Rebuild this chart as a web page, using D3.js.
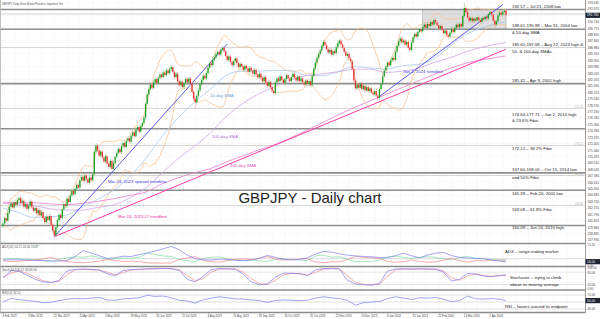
<!DOCTYPE html>
<html>
<head>
<meta charset="utf-8">
<title>GBPJPY - Daily chart</title>
<script src="https://cdn.jsdelivr.net/npm/d3@7"></script>
<style>
  body { margin: 0; background: #fff; }
  svg { display: block; font-family: "Liberation Sans", Arial, sans-serif; }
</style>
</head>
<body>
<div id="wrapper"></div>
<script>
// ---- data ----
// daily closes, 3 Feb 2023 .. late Apr 2024
const closes = [
  160.4, 161.2, 160.8, 162.0, 162.9, 163.4, 162.8, 163.6, 163.2, 163.9,
  164.2, 163.5, 163.8, 162.9, 163.3, 162.6, 163.1, 163.7, 162.8, 162.3,
  162.7, 161.9, 162.4, 161.6, 162.1, 161.2, 160.6, 161.4, 160.9, 161.5,
  160.2, 159.3, 158.6, 159.8, 160.9, 161.7, 161.2, 162.5, 163.3, 163.0,
  164.1, 163.6, 164.6, 165.3, 164.8, 165.6, 166.2, 165.8, 166.9, 167.4,
  166.8, 167.6, 167.1, 166.5, 167.3, 166.9, 167.8, 171.2, 172.1, 171.4,
  170.6, 171.2, 170.3, 169.7, 170.5, 169.4, 168.9, 169.8, 168.6, 169.5,
  170.4, 171.0, 171.6, 171.1, 172.0, 172.5, 171.9, 172.8, 173.2, 172.7,
  173.6, 174.1, 173.5, 174.5, 174.9, 174.2, 175.0, 175.5, 176.3, 178.4,
  179.8, 180.6, 181.3, 180.8, 181.6, 182.1, 181.5, 182.3, 182.8, 182.4,
  183.1, 182.7, 183.4, 183.0, 183.6, 183.9, 183.2, 182.4, 182.9, 181.8,
  181.2, 181.7, 180.9, 181.5, 182.1, 181.6, 182.2, 181.4, 180.2, 179.1,
  178.6, 179.6, 180.4, 181.3, 182.0, 182.6, 182.2, 183.0, 183.8, 184.5,
  184.2, 185.0, 185.4, 185.9, 186.2, 185.8, 186.5, 186.8, 186.3, 185.6,
  185.0, 185.5, 184.7, 184.2, 184.8, 185.2, 184.5, 183.9, 184.4, 184.0,
  183.5, 184.1, 183.7, 183.2, 183.8, 183.4, 182.9, 183.5, 182.8, 182.4,
  182.9, 182.3, 181.8, 182.4, 181.6, 181.1, 181.7, 180.9, 180.3, 180.0,
  181.6, 182.2, 181.8, 182.5, 182.0, 181.5, 182.1, 182.7, 182.2, 181.8,
  182.4, 182.9, 182.3, 181.9, 182.5, 181.8, 182.2, 181.6, 181.3, 181.9,
  181.4, 181.8, 181.2, 182.6, 183.7, 184.6, 185.3, 185.9, 186.4, 187.1,
  187.7, 187.2, 186.6, 186.1, 186.5, 185.8, 186.3, 186.0, 186.9, 187.5,
  187.9, 187.3, 186.8, 186.2, 185.6, 185.9, 185.2, 184.8, 183.6, 181.9,
  180.7, 181.3, 180.8, 181.4, 180.6, 181.1, 180.4, 180.9, 180.3, 180.7,
  180.1, 179.8, 180.3, 179.6, 179.3, 180.6, 181.4, 182.5, 183.4, 184.0,
  184.6, 184.2, 184.9, 185.3, 185.0, 186.2, 187.1, 187.8, 188.2, 187.6,
  187.9, 187.3, 187.7, 186.8, 186.5, 187.6, 188.4, 188.9, 188.5, 189.2,
  189.6, 189.3, 189.9, 190.3, 189.8, 190.4, 190.1, 190.7, 190.3, 191.0,
  190.6, 190.2, 189.7, 190.1, 189.5, 189.0, 189.4, 188.7, 188.5, 189.1,
  189.6, 189.2, 189.8, 190.3, 189.9, 190.4, 190.0, 191.6, 192.8, 192.2,
  191.4, 190.9, 191.3, 190.8, 191.2, 190.9, 191.4, 191.0, 190.7, 191.3,
  191.1, 191.5, 191.2, 191.9, 192.2, 191.8, 190.9, 190.3, 190.8, 191.7,
  192.1, 191.8, 192.2, 192.4, 191.7
];
const firstOpen = 160.0;
// a few long wicks
const spikeIdx = [32, 120, 169, 234, 288, 307];
const spikeHi  = [159.9, 179.4, 180.6, 179.9, 193.55, 190.9];
const spikeLo  = [158.0, 177.6, 179.6, 178.9, 191.9, 189.8];

const dateLabels = ["3 Feb 2023", "2 Mar 2023", "22 Mar 2023", "13 Apr 2023", "5 May 2023",
  "29 May 2023", "20 Jun 2023", "12 Jul 2023", "3 Aug 2023", "25 Aug 2023", "18 Sep 2023",
  "10 Oct 2023", "31 Oct 2023", "22 Nov 2023", "14 Dec 2023", "9 Jan 2024", "31 Jan 2024",
  "22 Feb 2024", "14 Mar 2024", "5 Apr 2024"];
const dateLabelIdx = [0, 16, 32, 48, 64, 80, 96, 112, 128, 144, 160, 176, 192, 208, 224, 240, 256, 272, 288, 304];

const priceTicks = [193.635, 192.670, 191.705, 190.740, 189.775, 188.810, 187.845, 186.880,
  185.915, 184.950, 183.985, 183.020, 182.055, 181.090, 180.125, 179.160, 178.195, 177.230,
  176.265, 175.300, 174.335, 173.370, 172.405, 171.440, 170.475, 169.510, 168.545, 167.580,
  166.615, 165.650, 164.685, 163.720, 162.755, 161.790, 160.825, 159.860, 158.895, 157.930];

// moving averages, sampled
const smaIdx = [0, 9, 19, 29, 39, 49, 59, 69, 79, 89, 99, 109, 119, 129, 139, 149, 159, 169,
  179, 189, 199, 209, 219, 229, 239, 249, 259, 269, 279, 289, 299, 309, 314];
const sma50 = [162.7, 162.1, 161.3, 161.4, 161.6, 162.8, 164.0, 165.4, 167.4, 170.1, 173.4,
  176.2, 178.5, 180.5, 182.6, 183.3, 183.3, 183.4, 183.4, 182.7, 182.6, 183.2, 184.0, 183.8,
  183.6, 184.1, 184.3, 185.2, 187.0, 188.8, 189.8, 190.5, 190.7];
const sma100 = [163.4, 163.3, 163.1, 162.6, 162.4, 162.4, 162.8, 163.2, 164.2, 165.7, 167.9,
  170.1, 171.9, 173.9, 176.4, 178.3, 179.8, 180.9, 181.9, 182.6, 182.9, 183.2, 183.6, 183.6,
  183.1, 183.3, 183.7, 184.6, 185.3, 186.2, 186.9, 187.4, 187.6];
const sma200 = [163.6, 163.5, 163.5, 163.35, 163.2, 163.4, 163.7, 164.1, 164.6, 165.1, 166.3,
  167.2, 168.0, 168.6, 169.6, 170.5, 171.4, 172.2, 173.2, 174.3, 175.5, 176.7, 177.8, 178.8,
  179.8, 180.8, 181.8, 182.8, 183.7, 184.5, 185.0, 185.4, 185.6];

// trendlines: [start bar, start price, end bar, end price]
const upTrend = [32, 158.4, 140, 187.4];
const ltTrend = [32, 158.4, 314, 186.6];
const janTrend = [234, 179.3, 312, 193.3];
const rangeBox = [262, 314, 189.61, 192.57];

const keyLevels = [192.57, 189.61, 181.42, 174.64, 168.00, 165.39, 160.09];
const minorLevels = [191.9, 186.85, 177.71, 172.12, 167.60, 163.08];
const minorLevelTags = ["", "", "177.71", "172.12", "167.60", "163.08"];

const levelNotes = ["192.57 \u2013 Jul 21, 2008 low", "189.61-190.88 \u2013 Mar 31, 2004 low",
  "& 50-day SMA", "185.65-187.68 \u2013 Aug 22, 2023 high &", "50- & 100-day SMAs",
  "181.42 \u2013 Apr 9, 2001 high", "174.64-177.71 \u2013 Jan 2, 2014 high", "& 23.6% Fibo",
  "172.12 \u2013 38.2% Fibo", "167.60-168.00 \u2013 Oct 15, 2014 low", "and 50% Fibo",
  "165.39 \u2013 Feb 20, 2001 low", "163.08 \u2013 61.8% Fibo", "160.09 \u2013 Jun 24, 2016 high"];

// indicators sampled every 5 bars (last one at the final bar)
const adx = [20,21,21,20,19,18,17,16,18,33, 55,46,36,26,28,34,33,40,46,53, 61,70,58,38,25,21,20,23,22,19,
  18,20,26,37,30,23,20,22,28,42, 52,49,43,38,35,33,32,29,28,36, 45,36,28,38,45,48,36,30,28,26, 25,20,16,14];
const plusDI = [22,26,24,22,20,18,14,22,28,32, 30,35,30,22,25,27,26,30,45,40, 35,33,22,18,14,26,30,32,25,20,
  18,19,17,15,22,24,22,20,18,35, 38,30,32,22,14,15,14,20,32,34, 30,26,30,32,30,24,20,30,33,26, 24,22,21,20];
const minusDI = [18,14,16,18,20,24,30,20,14,11, 10,12,16,22,18,15,16,14,10,9, 9,10,22,28,33,18,14,12,18,22,
  24,22,26,33,24,20,22,24,25,13, 10,14,13,22,34,30,28,26,15,12, 14,20,15,12,13,20,26,18,12,18, 17,20,19,20];
const stochK = [50,88,84,65,45,32,29,40,86,93, 95,92,90,72,62,88,92,94,96,97, 98,96,88,45,32,60,92,97,96,94,
  70,33,18,22,55,75,74,72,62,90, 97,98,95,40,22,18,17,24,85,95, 96,94,96,95,94,80,36,45,74,70, 60,58,64,67];
const stochD = [55,75,86,74,55,38,30,34,68,90, 94,93,91,80,66,78,90,93,95,96, 97,97,92,62,38,48,80,95,96,95,
  80,48,24,20,40,66,74,73,66,78, 94,97,96,62,30,20,18,20,60,90, 95,95,95,95,94,86,52,40,62,71, 64,59,62,64];
const rsi = [51,60,57,54,52,48,49,54,58,60, 59,61,63,56,55,59,60,62,69,66, 67,62,55,53,47,56,61,65,62,59,
  58,56,54,49,54,56,55,54,55,61, 65,62,60,55,41,48,50,51,60,65, 61,57,62,61,63,58,51,54,67,59, 58,60,58,54];

// ---- layout ----
const dimensions = { width: 600, height: 319, plotRight: 585 };
const N = closes.length;
const indIdx = adx.map((d, k) => Math.min(k * 5, N - 1));

const wrapper = d3.select("#wrapper").append("svg")
  .attr("width", dimensions.width).attr("height", dimensions.height);

const xScale = d3.scaleLinear().domain([0, N - 1]).range([3, 506]);
const yScale = d3.scaleLinear().domain([157.6, 193.7]).range([242, 2]);
const adxScale = d3.scaleLinear().domain([0, 75.1]).range([265.5, 245]);
const stochScale = d3.scaleLinear().domain([0, 100]).range([288.5, 268]);
const rsiScale = d3.scaleLinear().domain([30, 70]).range([309, 295]);

const defs = wrapper.append("defs");
defs.append("clipPath").attr("id", "mainClip").append("rect")
  .attr("x", 0).attr("y", 1).attr("width", dimensions.plotRight).attr("height", 242);

// grid
const grid = wrapper.append("g").attr("stroke", "#e9e9e9").attr("stroke-width", 0.5).attr("stroke-dasharray", "1,1");
grid.selectAll("line.v").data(d3.range(0, N + 40, 8)).join("line")
  .attr("x1", d => xScale(d)).attr("x2", d => xScale(d)).attr("y1", 1).attr("y2", 312)
  .filter(d => xScale(d) > dimensions.plotRight).remove();
grid.selectAll("line.h").data(priceTicks.filter((d, i) => i % 2 === 0)).join("line")
  .attr("x1", 0).attr("x2", dimensions.plotRight).attr("y1", d => yScale(d)).attr("y2", d => yScale(d));

// title at top-left
wrapper.append("text").attr("x", 2).attr("y", 4.5).attr("font-size", 2.6).attr("fill", "#555")
  .text("GBPJPY, Daily   Great Britain Pound vs Japanese Yen");

const main = wrapper.append("g").attr("clip-path", "url(#mainClip)");

// consolidation box
main.append("rect")
  .attr("x", xScale(rangeBox[0])).attr("width", xScale(rangeBox[1]) - xScale(rangeBox[0]))
  .attr("y", yScale(rangeBox[3])).attr("height", yScale(rangeBox[2]) - yScale(rangeBox[3]))
  .attr("fill", "#d4d4d4").attr("fill-opacity", 0.75).attr("stroke", "#a0a0a0").attr("stroke-width", 0.6);

// levels
main.selectAll("line.minor").data(minorLevels).join("line")
  .attr("x1", 0).attr("x2", dimensions.plotRight)
  .attr("y1", d => yScale(d)).attr("y2", d => yScale(d))
  .attr("stroke", "#cfcfcf").attr("stroke-width", 0.9);
main.selectAll("line.key").data(keyLevels).join("line")
  .attr("x1", 0).attr("x2", dimensions.plotRight)
  .attr("y1", d => yScale(d)).attr("y2", d => yScale(d))
  .attr("stroke", "#8e8e8e").attr("stroke-width", 1.6);
main.selectAll("text.tag").data(minorLevels).join("text")
  .attr("x", 583).attr("y", d => yScale(d) - 0.8).attr("text-anchor", "end")
  .attr("font-size", 2.6).attr("fill", "#aaa").text((d, i) => minorLevelTags[i]);

// bollinger bands (20, 2) from the closes
const bb = closes.map((c, i) => {
  const win = closes.slice(Math.max(0, i - 19), i + 1);
  const m = d3.mean(win), sd = win.length > 1 ? d3.deviation(win) : 0;
  return { i, up: m + 2 * sd, lo: m - 2 * sd };
}).slice(1);
["up", "lo"].forEach(k => {
  main.append("path")
    .attr("d", d3.line().x(d => xScale(d.i)).y(d => yScale(d[k]))(bb))
    .attr("fill", "none").attr("stroke", "#f7bd87").attr("stroke-width", 0.7);
});

// moving averages
const smaLine = vals => d3.line().x((d, i) => xScale(smaIdx[i])).y(d => yScale(d)).curve(d3.curveMonotoneX)(vals);
main.append("path").attr("d", smaLine(sma50)).attr("fill", "none").attr("stroke", "#a9c9ec").attr("stroke-width", 0.8);
main.append("path").attr("d", smaLine(sma100)).attr("fill", "none").attr("stroke", "#d1a6ea").attr("stroke-width", 0.8);
main.append("path").attr("d", smaLine(sma200)).attr("fill", "none").attr("stroke", "#f08ad2").attr("stroke-width", 0.9);

// trendlines
const trend = (t, color, w) => main.append("line")
  .attr("x1", xScale(t[0])).attr("y1", yScale(t[1]))
  .attr("x2", xScale(t[2])).attr("y2", yScale(t[3]))
  .attr("stroke", color).attr("stroke-width", w);
trend(ltTrend, "#ff3ea5", 1);
trend(upTrend, "#4a4af0", 0.9);
trend(janTrend, "#4a4af0", 0.9);

// candles
const candles = closes.map((c, i) => {
  const o = i === 0 ? firstOpen : closes[i - 1];
  const s = spikeIdx.indexOf(i);
  let hi = Math.max(o, c) + 0.3, lo = Math.min(o, c) - 0.3;
  if (s >= 0) { hi = Math.max(hi, spikeHi[s]); lo = Math.min(lo, spikeLo[s]); }
  return { i, o, c, hi, lo, up: c >= o };
});
main.selectAll("line.wick").data(candles).join("line")
  .attr("x1", d => xScale(d.i)).attr("x2", d => xScale(d.i))
  .attr("y1", d => yScale(d.hi)).attr("y2", d => yScale(d.lo))
  .attr("stroke", d => d.up ? "#7cc47c" : "#f19a9a").attr("stroke-width", 0.5);
main.selectAll("rect.body").data(candles).join("rect")
  .attr("x", d => xScale(d.i) - 0.65).attr("width", 1.3)
  .attr("y", d => yScale(Math.max(d.o, d.c)))
  .attr("height", d => Math.max(0.6, Math.abs(yScale(d.o) - yScale(d.c))))
  .attr("fill", d => d.up ? "#1e9c1e" : "#e5322c");

// notes on the main panel
const noteY = [7.5, 27, 33.5, 45.5, 53, 81.5, 115.5, 122, 149.5, 170.5, 178.8, 194.8, 210.5, 228.8];
wrapper.selectAll("text.note").data(levelNotes).join("text")
  .attr("x", 512).attr("y", (d, i) => noteY[i]).attr("font-size", 4.3).attr("fill", "#222").text(d => d);

const tag = (x, y, txt, color) => wrapper.append("text").attr("x", x).attr("y", y)
  .attr("font-size", 4.3).attr("fill", color).text(txt);
tag(403, 72.5, "Jan 2, 2024 trendline", "#3a3ae0");
tag(108, 182.5, "Mar 24, 2023 upward trendline", "#3a3ae0");
tag(118, 217.5, "Mar 24, 2023 LT trendline", "#ee2a98");
tag(210, 96.5, "50-day SMA", "#6a9fd4");
tag(212, 137.5, "100-day SMA", "#b66ad8");
tag(230, 166.5, "200-day SMA", "#e04cba");

wrapper.append("text").attr("x", 310).attr("y", 202.5).attr("text-anchor", "middle")
  .attr("font-size", 15).attr("fill", "#222").text("GBPJPY - Daily chart");

// ---- indicator panels ----
const hline = (y, color, w) => wrapper.append("line").attr("x1", 0).attr("x2", dimensions.plotRight)
  .attr("y1", y).attr("y2", y).attr("stroke", color).attr("stroke-width", w);
hline(adxScale(25), "#c4c4c4", 0.6);
[80, 20].forEach(v => hline(stochScale(v), "#d0d0d0", 0.6));
[70, 50, 30].forEach(v => hline(rsiScale(v), "#cfcfcf", 0.6));

const indLine = (vals, scale, color) => wrapper.append("path")
  .attr("d", d3.line().x((d, k) => xScale(indIdx[k])).y(d => scale(d))(vals))
  .attr("fill", "none").attr("stroke", color).attr("stroke-width", 0.7);
indLine(plusDI, adxScale, "#7fe0a6");
indLine(minusDI, adxScale, "#f28a8a");
indLine(adx, adxScale, "#7c7cf2");
indLine(stochD, stochScale, "#f28a8a");
indLine(stochK, stochScale, "#7c7cf2");
indLine(rsi, rsiScale, "#7c7cf2");

const head = (y, txt) => wrapper.append("text").attr("x", 2).attr("y", y)
  .attr("font-size", 3).attr("fill", "#555").text(txt);
head(247.8, "ADX(14) 14.21 20.06 19.87");
head(270.8, "Stoch(14,3,3) 67.36 63.56");
head(294.3, "RSI(14) 54.12");

tag(505, 252.5, "ADX \u2013 range-trading market", "#222");
tag(510, 279, "Stochastic \u2013 trying to climb", "#222");
tag(510, 285.5, "above its moving average", "#222");
tag(505, 308, "RSI \u2013 hovers around its midpoint", "#222");

// panel separators and frame
[243.5, 266.5, 290, 312.5].forEach(y => hline(y, "#8c8c8c", 1.4));
wrapper.append("line").attr("x1", 0.5).attr("x2", 0.5).attr("y1", 0).attr("y2", 313)
  .attr("stroke", "#b0b0b0").attr("stroke-width", 0.8);

// ---- axes ----
const styleAxis = (g, size) => {
  g.select(".domain").attr("stroke", "#888").attr("stroke-width", 0.8);
  g.selectAll(".tick line").attr("stroke", "#888").attr("stroke-width", 0.4);
  g.selectAll("text").attr("font-size", size).attr("fill", "#444")
    .attr("font-family", "Liberation Sans, Arial, sans-serif");
};
const yAxisGenerator = d3.axisRight(yScale).tickValues(priceTicks).tickFormat(d3.format(".3f")).tickSize(1.5).tickPadding(1);
const yAxis = wrapper.append("g").attr("transform", `translate(${dimensions.plotRight},0)`).call(yAxisGenerator);
styleAxis(yAxis, 3.2);
yAxis.select(".domain").attr("d", "M0.5,0V313");

const subAxis = (scale, ticks) => {
  const g = wrapper.append("g").attr("transform", `translate(${dimensions.plotRight},0)`)
    .call(d3.axisRight(scale).tickValues(ticks).tickFormat(d3.format(".2f")).tickSize(1.5).tickPadding(1));
  g.select(".domain").remove();
  styleAxis(g, 3);
};
subAxis(adxScale, [75.1, 0]);
subAxis(stochScale, [100, 80, 20, 0]);
subAxis(rsiScale, [70, 30]);

// value boxes
const valueBox = (y, txt) => {
  wrapper.append("rect").attr("x", 585.5).attr("y", y - 2.6).attr("width", 14.5).attr("height", 5.2).attr("fill", "#1d2433");
  wrapper.append("text").attr("x", 587).attr("y", y + 1.1).attr("font-size", 3.2).attr("fill", "#fff").text(txt);
};
valueBox(yScale(closes[N - 1]), closes[N - 1].toFixed(3));
valueBox(adxScale(adx[adx.length - 1]), adx[adx.length - 1].toFixed(2));
valueBox(rsiScale(rsi[rsi.length - 1]), rsi[rsi.length - 1].toFixed(2));

const xAxisGenerator = d3.axisBottom(xScale).tickValues(dateLabelIdx)
  .tickFormat((d, i) => dateLabels[i]).tickSize(1.5).tickPadding(1);
const xAxis = wrapper.append("g").attr("transform", "translate(0,312.5)").call(xAxisGenerator);
styleAxis(xAxis, 2.8);
xAxis.select(".domain").remove();
xAxis.selectAll("text").attr("text-anchor", "start").attr("dx", -1);
</script>
</body>
</html>
